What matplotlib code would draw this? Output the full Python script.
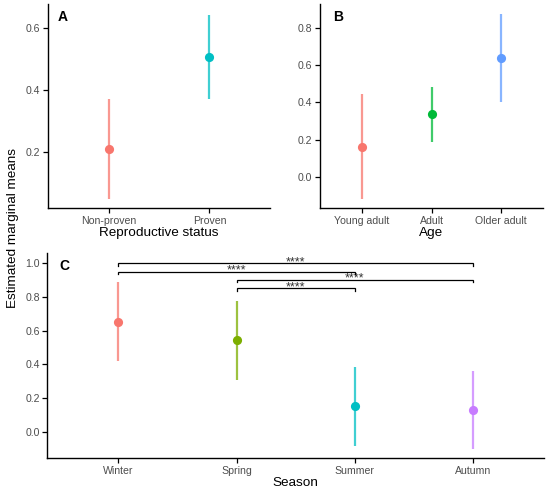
import matplotlib.pyplot as plt

plt.rcParams['font.family'] = ['Liberation Sans', 'DejaVu Sans']

# panel A - reproductive status
status_labels = ["Non-proven", "Proven"]
status_mean = [0.210, 0.507]
status_low = [0.048, 0.371]
status_high = [0.371, 0.644]
status_colors = ["#F8766D", "#00BFC4"]

# panel B - age
age_labels = ["Young adult", "Adult", "Older adult"]
age_mean = [0.164, 0.337, 0.640]
age_low = [-0.116, 0.190, 0.405]
age_high = [0.447, 0.484, 0.874]
age_colors = ["#F8766D", "#00BA38", "#619CFF"]

# panel C - season
season_labels = ["Winter", "Spring", "Summer", "Autumn"]
season_mean = [0.653, 0.545, 0.152, 0.129]
season_low = [0.422, 0.309, -0.083, -0.103]
season_high = [0.889, 0.778, 0.386, 0.362]
season_colors = ["#F8766D", "#7CAE00", "#00BFC4", "#C77CFF"]

# pairwise comparisons shown in panel C (index pairs, bracket height, label)
pair_start = [0, 0, 1, 1]
pair_end = [3, 2, 3, 2]
pair_y = [1.000, 0.950, 0.901, 0.851]
pair_text = ["****", "****", "****", "****"]

W, H = 550, 494
fig = plt.figure(figsize=(W / 100, H / 100), dpi=100)


def box(left, top, right, bottom):
    # pixel box -> figure fraction
    return [left / W, 1 - bottom / H, (right - left) / W, (bottom - top) / H]


def draw_panel(ax, labels, mean, low, high, colors, xlabel, ylim, yticks):
    for i in range(len(labels)):
        ax.plot([i, i], [low[i], high[i]], color=colors[i], lw=1.6,
                alpha=0.75, solid_capstyle="butt", zorder=2)
        ax.plot(i, mean[i], "o", color=colors[i], ms=6.6, mew=0, zorder=3)
    ax.set_xlim(-0.6, len(labels) - 0.4)
    ax.set_ylim(*ylim)
    ax.set_xticks(range(len(labels)))
    ax.set_xticklabels(labels)
    ax.set_yticks(yticks)
    ax.set_yticklabels(["%.1f" % t for t in yticks])
    ax.set_xlabel(xlabel, fontsize=9.7, labelpad=1)
    for side in ["top", "right"]:
        ax.spines[side].set_visible(False)
    for side in ["left", "bottom"]:
        ax.spines[side].set_linewidth(1.0)
    ax.tick_params(axis="both", length=3.5, width=0.9, labelsize=7.6,
                   labelcolor="#4D4D4D", pad=2)


ax_a = fig.add_axes(box(48, 4.5, 270, 208.3))
draw_panel(ax_a, status_labels, status_mean, status_low, status_high,
           status_colors, "Reproductive status", (0.0194, 0.677), [0.2, 0.4, 0.6])

ax_b = fig.add_axes(box(320, 4.5, 543, 208.3))
draw_panel(ax_b, age_labels, age_mean, age_low, age_high,
           age_colors, "Age", (-0.1655, 0.9235), [0.0, 0.2, 0.4, 0.6, 0.8])

ax_c = fig.add_axes(box(47.3, 252.7, 544, 458.3))
draw_panel(ax_c, season_labels, season_mean, season_low, season_high,
           season_colors, "Season", (-0.158, 1.063), [0.0, 0.2, 0.4, 0.6, 0.8, 1.0])

tip = 0.014
for s, e, y, t in zip(pair_start, pair_end, pair_y, pair_text):
    ax_c.plot([s, s, e, e], [y - tip, y, y, y - tip], color="black", lw=0.9,
              solid_joinstyle="miter", zorder=4)
    ax_c.text((s + e) / 2, y - 0.011, t, ha="center", va="baseline",
              fontsize=9, color="#333333")

# panel letters
fig.text(58 / W, 1 - 21 / H, "A", fontsize=10, fontweight="bold", va="baseline")
fig.text(333 / W, 1 - 21 / H, "B", fontsize=10, fontweight="bold", va="baseline")
fig.text(59 / W, 1 - 270 / H, "C", fontsize=10, fontweight="bold", va="baseline")

fig.text(13 / W, 1 - 228 / H, "Estimated marginal means", rotation=90,
         ha="center", va="center", fontsize=9.7)

fig.savefig("out.png", dpi=100)
